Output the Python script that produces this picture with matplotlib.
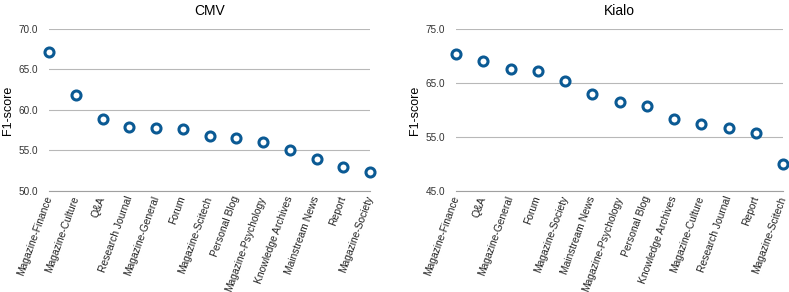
import matplotlib
matplotlib.use("Agg")
import matplotlib.pyplot as plt

cmv_categories = ["Magazine-Finance", "Magazine-Culture", "Q&A", "Research Journal",
                  "Magazine-General", "Forum", "Magazine-Scitech", "Personal Blog",
                  "Magazine-Psychology", "Knowledge Archives", "Mainstream News",
                  "Report", "Magazine-Society"]
cmv_values = [67.2, 61.8, 58.9, 57.9, 57.8, 57.6, 56.8, 56.5, 56.0, 55.0, 54.0, 53.0, 52.3]

kialo_categories = ["Magazine-Finance", "Q&A", "Magazine-General", "Forum",
                    "Magazine-Society", "Mainstream News", "Magazine-Psychology",
                    "Personal Blog", "Knowledge Archives", "Magazine-Culture",
                    "Research Journal", "Report", "Magazine-Scitech"]
kialo_values = [70.3, 69.1, 67.6, 67.2, 65.4, 63.0, 61.5, 60.7, 58.3, 57.4, 56.7, 55.8, 50.0]

cmv_yticks = [50.0, 55.0, 60.0, 65.0, 70.0]
kialo_yticks = [45.0, 55.0, 65.0, 75.0]

plt.rcParams['font.family'] = ['Liberation Sans', 'DejaVu Sans']

fig = plt.figure(figsize=(7.89, 2.92), dpi=100)
ax1 = fig.add_axes([0.0621, 0.346, 0.407, 0.555])
ax2 = fig.add_axes([0.578, 0.346, 0.4144, 0.555])

color = "#0b5a94"

def draw(ax, cats, vals, yticks, title):
    x = list(range(len(cats)))
    ax.plot(x, vals, linestyle='none', marker='o', markersize=6.5,
            markerfacecolor='white', markeredgecolor=color, markeredgewidth=2.2,
            clip_on=False, zorder=5)
    ax.set_xlim(0, len(cats) - 1)
    ax.set_ylim(yticks[0], yticks[-1])
    ax.set_yticks(yticks)
    ax.set_yticklabels([f"{t:.1f}" for t in yticks], fontsize=7.2, color='#333333')
    ax.set_xticks(x)
    ax.set_xticklabels(cats, rotation=70, ha='right', va='center',
                       rotation_mode='anchor', fontsize=7.4, color='#222222')
    ax.tick_params(axis='both', length=0)
    ax.tick_params(axis='y', pad=8)
    ax.tick_params(axis='x', pad=4)
    for s in ['top', 'right', 'left']:
        ax.spines[s].set_visible(False)
    ax.spines['bottom'].set_color('#a0a0a0')
    ax.spines['bottom'].set_linewidth(0.8)
    ax.grid(axis='y', color='#b8b8b8', linewidth=0.8)
    ax.set_axisbelow(True)
    ax.set_title(title, fontsize=10, pad=10)
    ax.set_ylabel("F1-score", fontsize=9, labelpad=3)

draw(ax1, cmv_categories, cmv_values, cmv_yticks, "CMV")
draw(ax2, kialo_categories, kialo_values, kialo_yticks, "Kialo")

fig.savefig("out.png", dpi=100)
